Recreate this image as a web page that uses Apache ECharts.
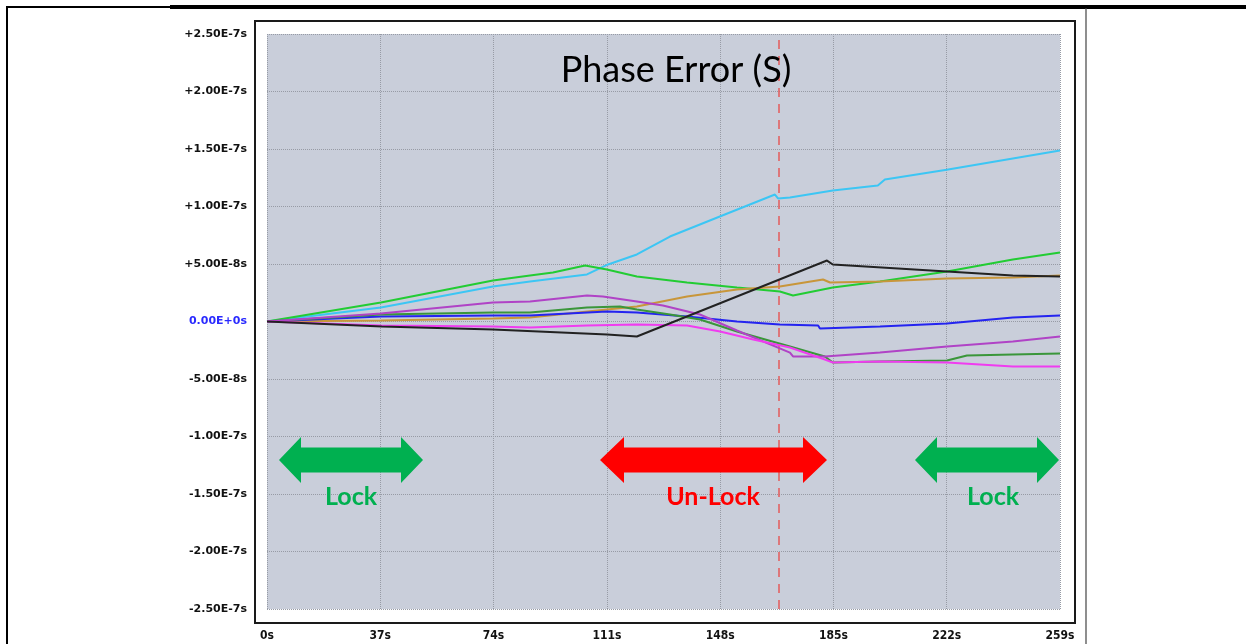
<!DOCTYPE html>
<html>
<head>
<meta charset="utf-8">
<script src="https://cdn.jsdelivr.net/npm/echarts@6/dist/echarts.min.js"></script>
<style>
  html, body { margin: 0; padding: 0; background: #fff; }
  #chart { width: 1246px; height: 644px; }
</style>
</head>
<body>
<div id="chart"></div>
<script>
// phase error traces, [time in s, error in ns]
var cyanTrace = [[0,0],[37.2,12.2],[73.8,30.4],[85.9,34.8],[104.5,40.9],[111.4,49.6],[120.8,58.3],[131.6,73.9],[147.9,91.3],[165.9,110.4],[166.9,107],[170.8,107.8],[184.8,113.9],[199.5,118.3],[201.8,123.5],[222,132],[243.6,141.7],[259,148.7]];
var greenTrace = [[0,0],[37.2,16.5],[73.8,35.7],[85.9,40],[93.4,42.6],[103.9,48.7],[111,45.2],[120.8,39.1],[137.2,33.9],[153.5,29.6],[167.5,26.1],[171.8,22.6],[184.8,29.6],[200.2,34.8],[222.1,43.5],[243.6,53.9],[259,60]];
var orangeTrace = [[0,0],[37.2,0.9],[73.8,2.6],[85.9,3.5],[111,10.4],[120.8,13],[137.2,21.7],[153.5,27.8],[167.5,30.4],[181.6,36.5],[183.9,33.9],[200.2,34.8],[222.1,37.4],[243.6,38.3],[259,40]];
var blueTrace = [[0,0],[37.2,4.3],[73.8,5.2],[85.9,5.2],[111,8.7],[120.8,7.8],[137.2,4.3],[153.5,0],[167.5,-2.6],[180,-3.5],[180.6,-6.1],[200.2,-4.3],[222.1,-1.7],[243.6,3.5],[259,5.2]];
var darkGreenTrace = [[0,0],[37.2,6.1],[73.8,7.8],[85.9,7.8],[104.5,12.2],[115.3,13],[120.8,10.4],[131.6,6.1],[141.4,1.7],[153.5,-8.7],[170.8,-21.7],[182.2,-30.4],[184.8,-35.7],[200.2,-34.8],[222.1,-33.9],[228.6,-29.6],[243.6,-28.7],[259,-27.8]];
var purpleTrace = [[0,0],[37.2,7],[73.8,16.5],[85.9,17.4],[104.5,22.6],[109.7,21.7],[120.8,17.4],[129.3,13.9],[141.4,6.1],[153.5,-7.8],[170.8,-27],[171.8,-30.4],[182.2,-30.4],[200.2,-27],[222.1,-21.7],[243.6,-17.4],[259,-13]];
var pinkTrace = [[0,0],[37.2,-3.5],[73.8,-4.3],[85.9,-5.2],[104.5,-3.5],[120.8,-2.6],[137.2,-3.5],[148,-8.7],[158.8,-15.7],[170.8,-22.6],[182.2,-33],[184.8,-35.7],[200.2,-34.8],[222.1,-35.7],[243.6,-39.1],[259,-39.1]];
var blackTrace = [[0,0],[37.5,-4.3],[73.8,-7],[111.1,-11.3],[120.8,-13],[182.9,53],[184.8,49.6],[222.1,43.5],[243.6,40],[259,39.1]];

var unlockMarker = 167; // s

var traces = [
  { data: cyanTrace, color: '#3cc6f4' },
  { data: greenTrace, color: '#22cc33' },
  { data: orangeTrace, color: '#c8963a' },
  { data: blueTrace, color: '#2424f0' },
  { data: darkGreenTrace, color: '#3a963a' },
  { data: purpleTrace, color: '#b043c6' },
  { data: pinkTrace, color: '#f03cf0' },
  { data: blackTrace, color: '#222222' }
];

function sciLabel(v) {
  if (v === 0) return '{zero|0.00E+0s}';
  var s = Math.abs(v) * 1e-9;
  var e = Math.floor(Math.log10(s) + 1e-9);
  var m = s / Math.pow(10, e);
  return (v > 0 ? '+' : '-') + m.toFixed(2) + 'E' + e + 's';
}

function arrow(x0, x1, yc, head, color) {
  var H = 23, s = 12.5;
  return {
    type: 'polygon',
    shape: { points: [
      [x0, yc], [x0 + head, yc - H], [x0 + head, yc - s], [x1 - head, yc - s], [x1 - head, yc - H],
      [x1, yc], [x1 - head, yc + H], [x1 - head, yc + s], [x0 + head, yc + s], [x0 + head, yc + H]
    ] },
    style: { fill: color },
    z: 10
  };
}

function label(text, x, y, color) {
  return {
    type: 'text', x: x, y: y, z: 10,
    style: { text: text, fill: color, font: 'bold 25px Lato', align: 'center', verticalAlign: 'middle' }
  };
}

var myChart = echarts.init(document.getElementById('chart'));

var option = {
  animation: false,
  backgroundColor: '#fff',
  grid: {
    left: 267, right: 186, top: 34, bottom: 35,
    show: true, backgroundColor: '#c9ceda', borderWidth: 0
  },
  xAxis: {
    type: 'value', min: 0, max: 259, interval: 37,
    axisLine: { show: false }, axisTick: { show: false },
    splitLine: { show: true, lineStyle: { color: '#979ba5', type: 'dotted', width: 1 } },
    axisLabel: {
      margin: 21, color: '#111', fontWeight: 'bold', fontSize: 12,
      fontFamily: '"DejaVu Sans Condensed", "DejaVu Sans", sans-serif',
      formatter: function (v) { return v + 's'; }
    }
  },
  yAxis: {
    type: 'value', min: -250, max: 250, interval: 50,
    axisLine: { show: false }, axisTick: { show: false },
    splitLine: { show: true, lineStyle: { color: '#979ba5', type: 'dotted', width: 1 } },
    axisLabel: {
      margin: 20, color: '#111', fontWeight: 'bold', fontSize: 11,
      fontFamily: '"DejaVu Sans", sans-serif',
      formatter: sciLabel,
      rich: { zero: { color: '#2a2aff', fontWeight: 'bold', fontSize: 11, fontFamily: '"DejaVu Sans", sans-serif' } }
    }
  },
  series: traces.map(function (t, i) {
    var s = {
      type: 'line',
      data: t.data,
      showSymbol: false,
      lineStyle: { color: t.color, width: 2 },
      itemStyle: { color: t.color },
      z: 3 + i
    };
    if (i === 0) {
      s.markLine = {
        silent: true,
        symbol: ['none', 'none'],
        label: { show: false },
        lineStyle: { color: '#e35b5b', type: [9, 7], width: 1.5 },
        data: [{ xAxis: unlockMarker }]
      };
    }
    return s;
  }),
  graphic: [
    // outer page frame
    { type: 'line', shape: { x1: 6, y1: 7, x2: 170, y2: 7 }, style: { stroke: '#000', lineWidth: 2 } },
    { type: 'line', shape: { x1: 170, y1: 7, x2: 1246, y2: 7 }, style: { stroke: '#000', lineWidth: 4 } },
    { type: 'line', shape: { x1: 7, y1: 7, x2: 7, y2: 644 }, style: { stroke: '#000', lineWidth: 2 } },
    { type: 'line', shape: { x1: 1086, y1: 8, x2: 1086, y2: 644 }, style: { stroke: '#444', lineWidth: 1.2 } },
    // plot frame
    { type: 'rect', shape: { x: 255, y: 21, width: 820, height: 602 }, style: { fill: 'none', stroke: '#1a1a1a', lineWidth: 2 } },
    {
      type: 'text', x: 676, y: 70, z: 10,
      style: { text: 'Phase Error (S)', fill: '#000', font: '36px Lato', align: 'center', verticalAlign: 'middle' }
    },
    arrow(279, 423, 460, 22, '#00b050'),
    arrow(600, 827, 460, 24, '#ff0000'),
    arrow(915, 1059, 460, 22, '#00b050'),
    label('Lock', 351, 497, '#00b050'),
    label('Un-Lock', 713, 497, '#ff0000'),
    label('Lock', 993, 497, '#00b050')
  ]
};

myChart.setOption(option);
</script>
</body>
</html>
